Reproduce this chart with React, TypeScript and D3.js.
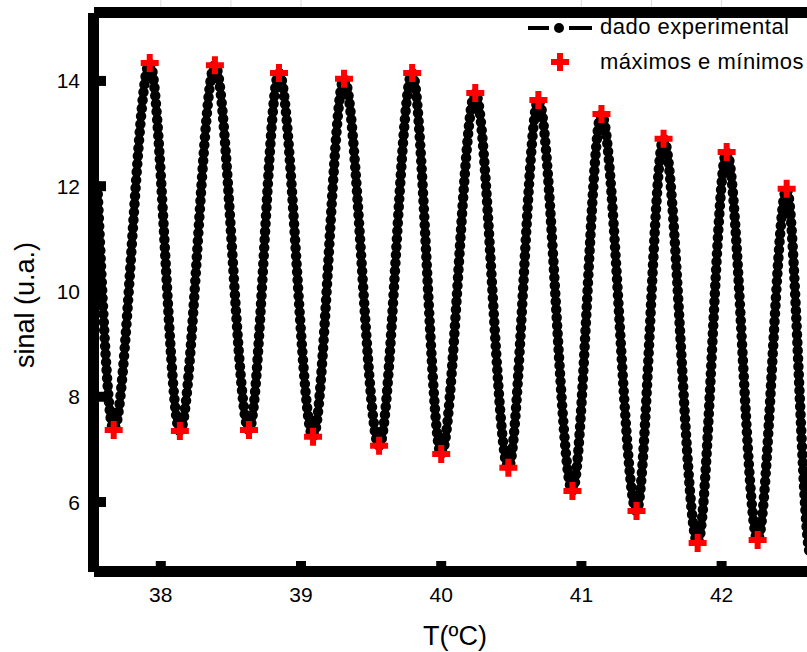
import React from 'react';
import * as d3 from 'd3';

// ---- data ----
const experimentalT = [37.548, 37.664, 37.921, 38.136, 38.386, 38.629, 38.843, 39.086, 39.307, 39.557, 39.793, 40.0, 40.243, 40.479, 40.693, 40.936, 41.143, 41.393, 41.586, 41.829, 42.036, 42.257, 42.464, 42.635, 42.85];
const experimentalSignal = [12.0, 7.37, 14.34, 7.35, 14.30, 7.37, 14.15, 7.24, 14.04, 7.07, 14.15, 6.91, 13.77, 6.65, 13.64, 6.21, 13.37, 5.83, 12.90, 5.22, 12.65, 5.28, 11.95, 5.0, 11.4];

const extremaT = [37.664, 37.921, 38.136, 38.386, 38.629, 38.843, 39.086, 39.307, 39.557, 39.793, 40.0, 40.243, 40.479, 40.693, 40.936, 41.143, 41.393, 41.586, 41.829, 42.036, 42.257, 42.464];
const extremaSignal = [7.37, 14.34, 7.35, 14.30, 7.37, 14.15, 7.24, 14.04, 7.07, 14.15, 6.91, 13.77, 6.65, 13.64, 6.21, 13.37, 5.83, 12.90, 5.22, 12.65, 5.28, 11.95];

const xTicks = [38, 39, 40, 41, 42];
const yTicks = [6, 8, 10, 12, 14];
const topMinorTicks = [38, 38.5, 39, 41, 41.5, 42];
const legendLabels = ['dado experimental', 'máximos e mínimos'];

const W = 807;
const H = 652;
const FONT = '"Liberation Sans", Arial, sans-serif';

export default function App() {
  const x = d3.scaleLinear().domain([37.52, 42.95]).range([93.5, 854.8]);
  const y = d3.scaleLinear().domain([4.68, 15.3]).range([571.5, 12.5]);

  const pts = experimentalT.map((t, i) => [t, experimentalSignal[i]] as [number, number]);
  const line = d3
    .line<[number, number]>()
    .x((d) => x(d[0]))
    .y((d) => y(d[1]))
    .curve(d3.curveMonotoneX);
  const pathD = line(pts) || '';

  const cross = d3.symbol(d3.symbolCross, 180)() || '';

  const left = x.range()[0];
  const top = y.range()[1];
  const bottom = y.range()[0];
  const aw = 11; // axis line width

  return (
    <svg
      width={W}
      height={H}
      style={{ position: 'absolute', left: 0, top: 0, background: '#fff' }}
      fontFamily={FONT}
    >
      <defs>
        <clipPath id="plotClip">
          <rect x={left + aw / 2} y={top + aw / 2} width={W} height={bottom - top - aw} />
        </clipPath>
      </defs>
      <rect x={0} y={0} width={W} height={H} fill="#fff" />

      {/* faint top ticks */}
      {topMinorTicks.map((t) => (
        <line key={'tm' + t} x1={x(t)} x2={x(t)} y1={0} y2={top - aw / 2} stroke="#dcdcdc" strokeWidth={1} />
      ))}

      {/* data */}
      <g clipPath="url(#plotClip)">
        <path d={pathD} fill="none" stroke="#000" strokeWidth={7} strokeLinejoin="round" />
        <path
          d={pathD}
          fill="none"
          stroke="#000"
          strokeWidth={10.5}
          strokeLinecap="round"
          strokeDasharray="0 8"
        />
        {extremaT.map((t, i) => (
          <path key={'c' + i} d={cross} transform={`translate(${x(t)},${y(extremaSignal[i])})`} fill="#ff0000" />
        ))}
      </g>

      {/* axes frame */}
      <rect x={left - aw / 2} y={top + 0.5} width={aw} height={bottom - top} fill="#000" />
      <rect x={left + 0.5} y={top - aw / 2} width={W} height={aw} fill="#000" />
      <rect x={left + 0.5} y={bottom - aw / 2} width={W} height={aw} fill="#000" />

      {/* x ticks */}
      {xTicks.map((t) => (
        <g key={'xt' + t}>
          <rect x={x(t) - 5} y={bottom - aw / 2 - 5} width={10} height={6} fill="#000" />
          <text x={x(t)} y={602} textAnchor="middle" fontSize={21} fill="#000">
            {t}
          </text>
        </g>
      ))}

      {/* y ticks */}
      {yTicks.map((v) => (
        <g key={'yt' + v}>
          <rect x={left + aw / 2 - 1} y={y(v) - 5} width={8} height={10} fill="#000" />
          <text x={80} y={y(v) + 7.5} textAnchor="end" fontSize={21} fill="#000">
            {v}
          </text>
        </g>
      ))}

      {/* axis titles */}
      <text x={455} y={645} textAnchor="middle" fontSize={27} fill="#000">
        T(ºC)
      </text>
      <text transform="translate(34,305) rotate(-90)" textAnchor="middle" fontSize={27} fill="#000">
        sinal (u.a.)
      </text>

      {/* legend */}
      <g>
        <line x1={528} x2={592} y1={28} y2={28} stroke="#000" strokeWidth={4} strokeDasharray="21 20 23" />
        <circle cx={559} cy={28} r={5} fill="#000" />
        <text x={600} y={34} fontSize={22} letterSpacing={0.5} fill="#000">
          {legendLabels[0]}
        </text>
        <path d={cross} transform="translate(560,62)" fill="#ff0000" />
        <text x={600} y={69} fontSize={22} letterSpacing={0.5} fill="#000">
          {legendLabels[1]}
        </text>
      </g>
    </svg>
  );
}
